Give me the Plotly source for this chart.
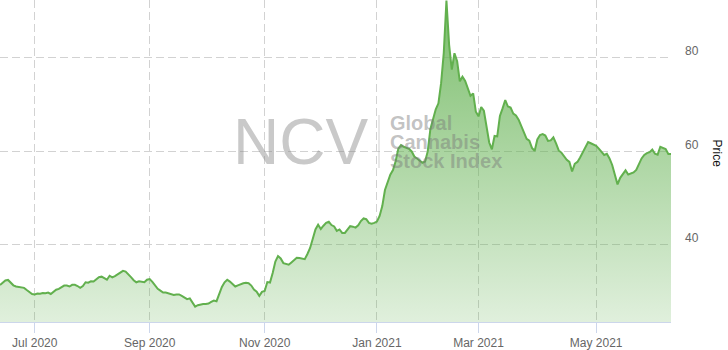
import pandas as pd
import plotly.graph_objects as go

# ---------------- data ----------------
START_DATE = "2020-06-12"
END_DATE = "2021-06-11"
HOLIDAYS = ["2020-07-03", "2020-09-07", "2020-11-26", "2020-12-25",
            "2021-01-01", "2021-01-18", "2021-02-15", "2021-04-02", "2021-05-31"]

PRICES = [
    31.4, 32.0, 32.4, 32.5, 31.9, 31.35, 31.1, 31.0, 31.0, 30.8,
    30.35, 29.95, 29.5, 29.4, 29.6, 29.55, 29.7, 29.65, 29.8, 29.5,
    30.05, 30.4, 30.6, 30.9, 31.3, 31.3, 31.1, 31.45, 31.45, 31.2,
    30.8, 31.2, 32.0, 31.9, 32.2, 32.15, 32.55, 33.1, 33.2, 32.95,
    32.55, 33.4, 33.05, 33.3, 33.7, 34.15, 34.45, 34.3, 33.8, 33.1,
    32.45, 32.0, 32.2, 32.1, 32.0, 32.55, 32.7, 32.1, 31.25, 30.6,
    30.2, 29.8, 29.8, 29.6, 29.4, 29.3, 29.4, 29.4, 29.1, 28.7,
    28.4, 28.55, 27.6, 26.8, 27.1, 27.3, 27.35, 27.35, 27.45, 27.8,
    28.1, 27.95, 29.6, 31.0, 32.0, 32.55, 32.15, 31.6, 31.1, 31.35,
    31.6, 31.8, 31.9, 31.8, 31.3, 30.45, 30.0, 29.1, 29.95, 30.15,
    32.05, 31.95, 34.0, 36.45, 37.6, 37.1, 36.1, 35.9, 35.75, 36.25,
    36.8, 37.25, 37.2, 37.1, 36.95, 38.05, 39.35, 41.3, 43.3, 44.3,
    43.4, 44.1, 44.7, 44.95, 44.25, 43.95, 43.0, 43.3, 42.55, 42.55,
    43.4, 44.0, 43.9, 43.7, 44.2, 45.1, 45.65, 45.5, 44.7, 44.55,
    44.7, 45.0, 46.2, 48.3, 51.75, 53.4, 55.0, 56.0, 57.9, 60.6,
    61.35, 61.0, 60.8, 60.55, 60.0, 58.9, 58.5, 58.0, 57.55, 57.85,
    60.0, 64.8, 67.2, 69.0, 70.3, 74.6, 81.1, 92.3, 82.8, 77.5,
    81.0, 79.3, 75.0, 76.0, 75.1, 73.5, 71.9, 72.4, 68.5, 67.5,
    69.5, 68.7, 64.9, 61.9, 60.45, 63.3, 63.2, 67.6, 69.2, 71.0,
    69.6, 69.4, 68.1, 67.7, 66.8, 65.45, 63.7, 62.7, 62.3, 60.75,
    60.1, 62.55, 63.5, 63.7, 63.4, 62.25, 62.35, 63.0, 61.7, 60.2,
    59.75, 58.9, 58.2, 57.75, 55.7, 57.35, 57.75, 58.7, 59.9, 61.0,
    62.0, 61.75, 61.5, 61.2, 60.6, 60.0, 59.25, 59.5, 58.5, 57.1,
    54.8, 52.95, 54.35, 55.05, 55.95, 55.05, 55.2, 55.5, 56.05, 57.2,
    58.5, 59.25, 59.65, 59.85, 60.4, 59.5, 59.3, 61.0, 60.8, 60.5,
    59.45, 59.45,
]

TICK_DATES = ["2020-07-01", "2020-09-01", "2020-11-02", "2021-01-04", "2021-03-01", "2021-05-03"]
TICK_LABELS = ["Jul 2020", "Sep 2020", "Nov 2020", "Jan 2021", "Mar 2021", "May 2021"]
Y_TICKS = [40, 60, 80]
Y_RANGE = [23.5, 92.4]

# trading days of the series
dates = pd.bdate_range(START_DATE, END_DATE, freq="C", holidays=HOLIDAYS)
n = min(len(dates), len(PRICES))
dates = dates[:n]
values = PRICES[:n]

FONT = "Liberation Sans, Arial, Helvetica, sans-serif"
GRID = "#d2d2d2"

fig = go.Figure()
fig.add_trace(go.Scatter(
    x=dates, y=values, mode="lines",
    line=dict(color="#62b04e", width=2),
    fill="tozeroy",
    fillgradient=dict(
        type="vertical",
        colorscale=[[0, "rgba(100,178,82,0.2)"], [1, "rgba(100,178,82,0.85)"]],
        start=Y_RANGE[0], stop=Y_RANGE[1],
    ),
    hoverinfo="skip",
))

W, H = 728, 350
ML, MR, MT, MB = 0, 57, 0, 28
PW, PH = W - ML - MR, H - MT - MB


def px(xp):
    return (xp - ML) / PW


def py(yp):
    return 1 - (yp - MT) / PH


annotations = [
    dict(text="NCV", x=px(300), y=py(141.5), xref="paper", yref="paper",
         xanchor="center", yanchor="middle", showarrow=False,
         font=dict(family=FONT, size=64, color="rgba(135,135,135,0.45)")),
    dict(text="<b>Global</b>", x=px(388), y=py(123.5), xref="paper", yref="paper",
         xanchor="left", yanchor="middle", showarrow=False,
         font=dict(family=FONT, size=20, color="rgba(120,120,120,0.45)")),
    dict(text="<b>Cannabis</b>", x=px(388), y=py(142), xref="paper", yref="paper",
         xanchor="left", yanchor="middle", showarrow=False,
         font=dict(family=FONT, size=20, color="rgba(120,120,120,0.45)")),
    dict(text="<b>Stock Index</b>", x=px(388), y=py(160.5), xref="paper", yref="paper",
         xanchor="left", yanchor="middle", showarrow=False,
         font=dict(family=FONT, size=20, color="rgba(120,120,120,0.45)")),
    dict(text="Price", x=px(716.5), y=py(153), xref="paper", yref="paper",
         xanchor="center", yanchor="middle", showarrow=False, textangle=90,
         font=dict(family=FONT, size=12, color="#111111")),
]

shapes = [
    dict(type="line", xref="paper", yref="paper", x0=px(379), x1=px(379),
         y0=py(115), y1=py(168), line=dict(color="rgba(140,140,140,0.4)", width=1)),
]

fig.update_layout(
    width=W, height=H,
    margin=dict(l=ML, r=MR, t=MT, b=MB, pad=0),
    paper_bgcolor="white", plot_bgcolor="white",
    showlegend=False,
    font=dict(family=FONT, size=12, color="#666666"),
    annotations=annotations,
    shapes=shapes,
    xaxis=dict(
        type="date",
        range=[dates[0], dates[-1]],
        rangebreaks=[dict(bounds=["sat", "mon"]), dict(values=HOLIDAYS)],
        tickmode="array", tickvals=TICK_DATES, ticktext=TICK_LABELS,
        showgrid=True, gridcolor=GRID, griddash="8px,4px", gridwidth=1,
        showline=True, linecolor="#ccd6eb", linewidth=1,
        ticks="outside", ticklen=10, tickcolor="#ccd6eb", tickwidth=1,
        tickfont=dict(family=FONT, size=12, color="#666666"),
        zeroline=False, fixedrange=True,
    ),
    yaxis=dict(
        side="right",
        range=Y_RANGE,
        tickmode="array", tickvals=Y_TICKS,
        showgrid=True, gridcolor=GRID, griddash="8px,4px", gridwidth=1,
        showline=False, zeroline=False, ticks="",
        tickfont=dict(family=FONT, size=12, color="#666666"),
        ticklabelshift=-7, ticklabelstandoff=13,
        fixedrange=True,
    ),
)

fig.write_html("out.html")
